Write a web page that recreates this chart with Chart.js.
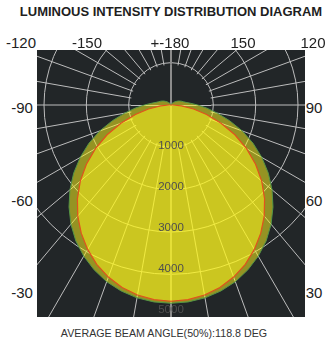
<!DOCTYPE html>
<html>
<head>
<meta charset="utf-8">
<title>Luminous intensity distribution</title>
<script src="https://cdn.jsdelivr.net/npm/chart.js@4.4.1/dist/chart.umd.min.js"></script>
<style>
  body { margin: 0; background: #fff; font-family: "Liberation Sans", Arial, sans-serif; }
  #wrap { position: relative; width: 335px; height: 346px; overflow: hidden; }
  #title { position: absolute; left: 0; width: 342px; top: 4px; text-align: center;
           font-weight: bold; font-size: 13px; color: #1e1e1e; white-space: nowrap; }
  #foot { position: absolute; left: 0; width: 328px; top: 327px; text-align: center;
          font-size: 10.7px; color: #333; white-space: nowrap; }
  .lbl { position: absolute; font-size: 15px; color: #222; white-space: nowrap;
         transform: translate(-50%, -50%); }
  #panel { position: absolute; left: 37px; top: 50px; width: 268px; height: 267px;
           background: #222628; overflow: hidden; }
  #panel canvas { position: absolute; left: -120px; top: -199px; }
</style>
</head>
<body>
<div id="wrap">
  <div id="title">LUMINOUS INTENSITY DISTRIBUTION DIAGRAM</div>
  <div id="panel"><canvas id="polarChart" width="508" height="508"></canvas></div>
  <div id="foot">AVERAGE BEAM ANGLE(50%):118.8 DEG</div>
</div>
<script>
// angles in degrees, 0 = straight down, going clockwise (left side negative)
var angles = [0, -5, -10, -15, -20, -25, -30, -35, -40, -45, -50, -55, -60, -65, -70, -75, -80, -85,
  -90, -95, -100, -105, -110, -115, -120, -125, -130, -135, -140, -145, -150, -155, -160, -165, -170, -175,
  180, 175, 170, 165, 160, 155, 150, 145, 140, 135, 130, 125, 120, 115, 110, 105, 100, 95,
  90, 85, 80, 75, 70, 65, 60, 55, 50, 45, 40, 35, 30, 25, 20, 15, 10, 5];

// C0-C180 plane (red outline)
var planeA = [4790, 4770, 4710, 4610, 4470, 4290, 4070, 3820, 3540, 3230, 2890, 2520, 2130, 1720, 1300, 900, 560, 260,
  40, 0, 0, 0, 0, 0, 0, 0, 0, 0, 0, 0, 0, 0, 0, 0, 0, 0,
  0, 0, 0, 0, 0, 0, 0, 0, 0, 0, 0, 0, 0, 0, 0, 0, 0, 0,
  40, 260, 560, 900, 1300, 1720, 2130, 2520, 2890, 3230, 3540, 3820, 4070, 4290, 4470, 4610, 4710, 4770];

// C90-C270 plane (green outline)
var planeB = [4840, 4825, 4780, 4700, 4590, 4440, 4260, 4050, 3800, 3520, 3220, 2900, 2560, 2210, 1850, 1480, 1150, 880,
  650, 480, 370, 310, 270, 230, 190, 150, 120, 90, 70, 50, 40, 30, 20, 10, 0, 0,
  0, 0, 0, 10, 20, 30, 40, 50, 70, 90, 120, 150, 190, 230, 270, 310, 370, 480,
  650, 880, 1150, 1480, 1850, 2210, 2560, 2900, 3220, 3520, 3800, 4050, 4260, 4440, 4590, 4700, 4780, 4825];

var intensityTicks = [1000, 2000, 3000, 4000, 5000];
var topLabels = ['-120', '-150', '+-180', '150', '120'];
var leftLabels = ['-90', '-60', '-30'];
var rightLabels = ['90', '60', '30'];

// where the angle labels sit around the panel
var topX = [21, 87, 170, 243, 313];
var sideY = [107, 200, 292];

var wrap = document.getElementById('wrap');
function addLabel(text, x, y) {
    var el = document.createElement('div');
    el.className = 'lbl';
    el.textContent = text;
    el.style.left = x + 'px';
    el.style.top = y + 'px';
    wrap.appendChild(el);
}
topLabels.forEach(function (t, i) { addLabel(t, topX[i], 42); });
leftLabels.forEach(function (t, i) { addLabel(t, 22, sideY[i]); });
rightLabels.forEach(function (t, i) { addLabel(t, 314, sideY[i]); });

var gridColor = '#bdbdbd';
var panelColor = '#222628';

// blank the spokes inside the first ring, then put the two axes back
var innerRing = {
    id: 'innerRing',
    beforeDatasetsDraw: function (chart) {
        var r = chart.scales.r;
        var rad = r.getDistanceFromCenterForValue(intensityTicks[0]) - 0.6;
        var ctx = chart.ctx;
        ctx.save();
        ctx.fillStyle = panelColor;
        ctx.beginPath();
        ctx.arc(r.xCenter, r.yCenter, rad, 0, Math.PI * 2);
        ctx.fill();
        ctx.strokeStyle = gridColor;
        ctx.lineWidth = 1;
        ctx.beginPath();
        ctx.moveTo(r.xCenter - rad, r.yCenter + 0.5);
        ctx.lineTo(r.xCenter + rad, r.yCenter + 0.5);
        ctx.stroke();
        ctx.strokeStyle = '#8c8c8c';
        ctx.lineWidth = 2;
        ctx.beginPath();
        ctx.moveTo(r.xCenter, r.yCenter - rad);
        ctx.lineTo(r.xCenter, r.yCenter + rad);
        ctx.stroke();
        ctx.restore();
    }
};

// intensity values along the downward axis, over the curves
var ringLabels = {
    id: 'ringLabels',
    afterDatasetsDraw: function (chart) {
        var r = chart.scales.r;
        var ctx = chart.ctx;
        ctx.save();
        ctx.font = '11.5px "Liberation Sans", Arial, sans-serif';
        ctx.fillStyle = '#4f4f4f';
        ctx.textAlign = 'center';
        ctx.textBaseline = 'middle';
        intensityTicks.forEach(function (v) {
            ctx.fillText(String(v), r.xCenter, r.yCenter + r.getDistanceFromCenterForValue(v));
        });
        ctx.restore();
    }
};

var ctxPolar = document.getElementById('polarChart').getContext('2d');
var polarChart = new Chart(ctxPolar, {
    type: 'radar',
    data: {
        labels: angles,
        datasets: [{
            label: 'C0-C180',
            data: planeA,
            backgroundColor: 'rgba(255, 248, 30, 0.52)',
            borderColor: 'rgb(226, 82, 30)',
            borderWidth: 1.2,
            fill: true
        }, {
            label: 'C90-C270',
            data: planeB,
            backgroundColor: 'rgba(255, 248, 30, 0.52)',
            borderColor: 'rgb(84, 150, 70)',
            borderWidth: 1,
            fill: true
        }]
    },
    options: {
        responsive: false,
        animation: false,
        devicePixelRatio: 1,
        elements: {
            point: { radius: 0, hoverRadius: 0 },
            line: { tension: 0 }
        },
        plugins: {
            legend: { display: false },
            tooltip: { enabled: false }
        },
        scales: {
            r: {
                min: 0,
                max: 6200,
                startAngle: 180,
                ticks: { display: false, stepSize: 1000 },
                pointLabels: { display: false },
                grid: {
                    circular: true,
                    lineWidth: 1,
                    color: function (c) {
                        return c.tick && c.tick.value <= 5000 ? gridColor : 'transparent';
                    }
                },
                angleLines: {
                    color: function (c) {
                        if (c.index % 2) return 'transparent';
                        return (c.index === 0 || c.index === 36) ? '#8c8c8c' : gridColor;
                    },
                    lineWidth: function (c) {
                        return (c.index === 0 || c.index === 36) ? 2 : 1;
                    }
                }
            }
        }
    },
    plugins: [innerRing, ringLabels]
});
</script>
</body>
</html>
